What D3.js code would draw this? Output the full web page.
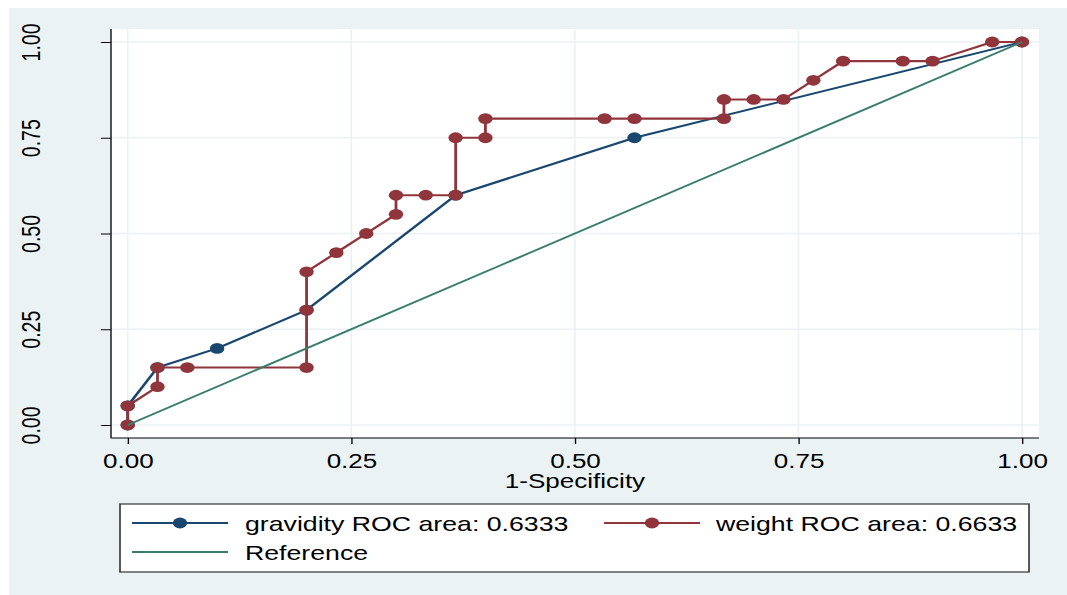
<!DOCTYPE html>
<html>
<head>
<meta charset="utf-8">
<script src="https://cdn.jsdelivr.net/npm/d3@7"></script>
<style>
  html, body { margin: 0; padding: 0; background: #ffffff; }
  svg { display: block; }
  text { font-family: "Liberation Sans", Arial, Helvetica, sans-serif; fill: #000; }
</style>
</head>
<body>
<svg id="chart" width="1067" height="595"></svg>
<script>
// ---- data ----
const tickValues = [0, 0.25, 0.5, 0.75, 1];
const tickLabels = ["0.00", "0.25", "0.50", "0.75", "1.00"];
const xTitle = "1-Specificity";

const gravidityFpr = [0, 0, 0.0333, 0.1, 0.2, 0.3667, 0.5667, 1];
const gravidityTpr = [0, 0.05, 0.15, 0.2, 0.3, 0.6, 0.75, 1];

const weightFpr = [0, 0, 0.0333, 0.0333, 0.0667, 0.2, 0.2, 0.2, 0.2333, 0.2667, 0.3, 0.3, 0.3333, 0.3667, 0.3667, 0.4, 0.4, 0.5333, 0.5667, 0.6667, 0.6667, 0.7, 0.7333, 0.7667, 0.8, 0.8667, 0.9, 0.9667, 1];
const weightTpr = [0, 0.05, 0.1, 0.15, 0.15, 0.15, 0.3, 0.4, 0.45, 0.5, 0.55, 0.6, 0.6, 0.6, 0.75, 0.75, 0.8, 0.8, 0.8, 0.8, 0.85, 0.85, 0.85, 0.9, 0.95, 0.95, 0.95, 1, 1];

const referenceX = [0, 1];
const referenceY = [0, 1];

const legendLabels = ["gravidity ROC area: 0.6333", "weight ROC area: 0.6633", "Reference"];

// ---- styles ----
const colGrav = "#1a476f";
const colWeight = "#90353b";
const colRef = "#3a7d6f";
const colBg = "#eaf2f3";

const sx = 1.335;            // horizontal stretch of the original picture
const X = v => v / sx;

const svg = d3.select("#chart");
svg.append("rect").attr("x", 9).attr("y", 8).attr("width", 1058).attr("height", 587).attr("fill", colBg);

const g = svg.append("g").attr("transform", `scale(${sx},1)`);

const plotL = 111, plotR = 1039, plotT = 29, plotB = 438;
g.append("rect").attr("x", X(plotL)).attr("y", plotT).attr("width", X(plotR - plotL)).attr("height", plotB - plotT).attr("fill", "#fff");

const xScale = d3.scaleLinear().domain([0, 1]).range([X(127.7), X(1022)]);
const yScale = d3.scaleLinear().domain([0, 1]).range([425, 42]);

// gridlines
const grid = g.append("g");
tickValues.forEach(t => {
  grid.append("line").attr("x1", xScale(t)).attr("x2", xScale(t)).attr("y1", plotT).attr("y2", plotB)
    .attr("stroke", colBg).attr("stroke-width", 1.3);
  grid.append("line").attr("x1", X(plotL)).attr("x2", X(plotR)).attr("y1", yScale(t)).attr("y2", yScale(t))
    .attr("stroke", colBg).attr("stroke-width", 1.5);
});

// axes
const fmt = (d, i) => tickLabels[i];
const yAxis = g.append("g").attr("transform", `translate(${X(plotL)},0)`)
  .call(d3.axisLeft(yScale).tickValues(tickValues).tickFormat(fmt).tickSize(X(10)).tickSizeOuter(0));
yAxis.select(".domain").remove();
yAxis.selectAll(".tick line").attr("stroke", "#000").attr("stroke-width", 1);
yAxis.selectAll(".tick text")
  .attr("x", null).attr("dy", null).attr("y", 0)
  .attr("transform", `translate(${X(40) - X(plotL)},0) rotate(-90)`)
  .attr("text-anchor", "middle")
  .style("font-size", "19.5px").attr("font-family", null).attr("fill", "#000");

const xAxis = g.append("g").attr("transform", `translate(0,${plotB})`)
  .call(d3.axisBottom(xScale).tickValues(tickValues).tickFormat(fmt).tickSize(6).tickSizeOuter(0));
xAxis.select(".domain").remove();
xAxis.selectAll(".tick line").attr("stroke", "#000").attr("stroke-width", 1);
xAxis.selectAll(".tick text").attr("dy", null).attr("y", 30)
  .attr("text-anchor", "middle").style("font-size", "19.5px").attr("font-family", null).attr("fill", "#000");

g.append("line").attr("x1", X(plotL)).attr("x2", X(plotL)).attr("y1", plotT).attr("y2", plotB).attr("stroke", "#000").attr("stroke-width", 1);
g.append("line").attr("x1", X(plotL)).attr("x2", X(plotR)).attr("y1", plotB).attr("y2", plotB).attr("stroke", "#000").attr("stroke-width", 1);

g.append("text").attr("x", X(575)).attr("y", 488).attr("text-anchor", "middle").style("font-size", "19.5px").text(xTitle);

// series
const line = d3.line().x(d => xScale(d[0])).y(d => yScale(d[1]));
const grav = gravidityFpr.map((v, i) => [v, gravidityTpr[i]]);
const wt = weightFpr.map((v, i) => [v, weightTpr[i]]);
const ref = referenceX.map((v, i) => [v, referenceY[i]]);

function drawSeries(data, color) {
  g.append("path").datum(data).attr("d", line).attr("fill", "none").attr("stroke", color).attr("stroke-width", 2.1).attr("stroke-linejoin", "round");
  g.append("g").selectAll("circle").data(data).join("circle")
    .attr("cx", d => xScale(d[0])).attr("cy", d => yScale(d[1])).attr("r", 5.4).attr("fill", color);
}
drawSeries(grav, colGrav);
drawSeries(wt, colWeight);
g.append("path").datum(ref).attr("d", line).attr("fill", "none").attr("stroke", colRef).attr("stroke-width", 1.8);

// legend
g.append("rect").attr("x", X(120)).attr("y", 504).attr("width", X(1029 - 120)).attr("height", 68)
  .attr("fill", "#fff").attr("stroke", "#333").attr("stroke-width", 1.2);
const legendItems = [
  { label: legendLabels[0], color: colGrav, marker: true, x0: 132, x1: 228, tx: 245, y: 523 },
  { label: legendLabels[1], color: colWeight, marker: true, x0: 604, x1: 700, tx: 716, y: 523 },
  { label: legendLabels[2], color: colRef, marker: false, x0: 132, x1: 228, tx: 245, y: 552 }
];
legendItems.forEach(it => {
  g.append("line").attr("x1", X(it.x0)).attr("x2", X(it.x1)).attr("y1", it.y).attr("y2", it.y)
    .attr("stroke", it.color).attr("stroke-width", it.marker ? 2.1 : 2);
  if (it.marker) g.append("circle").attr("cx", X((it.x0 + it.x1) / 2)).attr("cy", it.y).attr("r", 5.4).attr("fill", it.color);
  g.append("text").attr("x", X(it.tx)).attr("y", it.y + 8).style("font-size", "20px").text(it.label);
});
</script>
</body>
</html>
